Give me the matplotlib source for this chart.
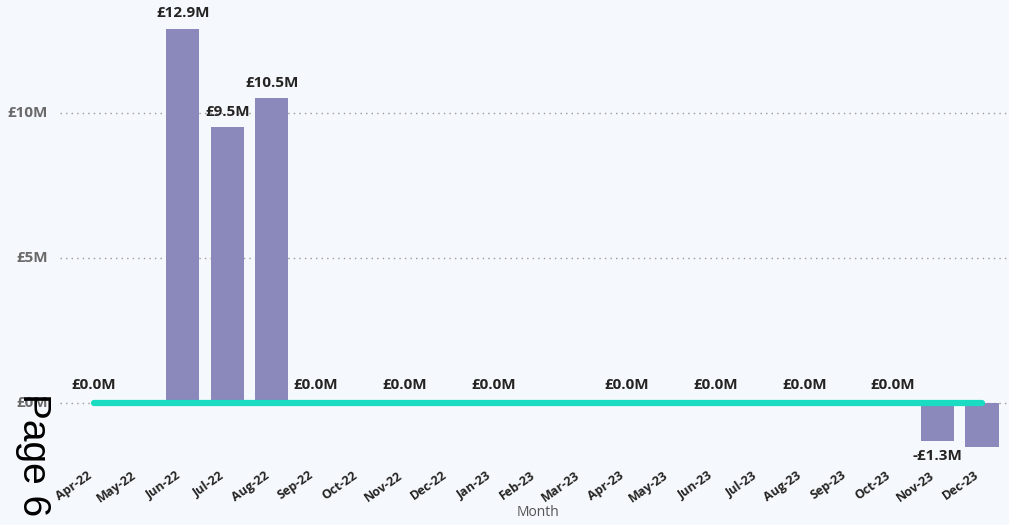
import numpy as np
import matplotlib
matplotlib.use('Agg')
import matplotlib.pyplot as plt

months = ['Apr-22', 'May-22', 'Jun-22', 'Jul-22', 'Aug-22', 'Sep-22', 'Oct-22',
          'Nov-22', 'Dec-22', 'Jan-23', 'Feb-23', 'Mar-23', 'Apr-23', 'May-23',
          'Jun-23', 'Jul-23', 'Aug-23', 'Sep-23', 'Oct-23', 'Nov-23', 'Dec-23']
bar_vals = [0, 0, 12.9, 9.5, 10.5, 0, 0, 0, 0, 0, 0, 0, 0, 0, 0, 0, 0, 0, 0, -1.3, -1.5]
line_vals = [0.0] * 21
line_label_idx = [0, 5, 7, 9, 12, 14, 16, 18]
ytick_vals = [0, 5, 10]
ytick_labels = ['£0M', '£5M', '£10M']

BG = '#f5f8fc'
BAR = '#8b88bc'
TEAL = '#1adcc2'
FONT = ['Open Sans', 'DejaVu Sans']

fig = plt.figure(figsize=(10.09, 5.25), dpi=100, facecolor=BG)
ax = fig.add_axes([60/1009, 1-460/525, 949/1009, 460/525])
ax.set_facecolor(BG)
x = np.arange(len(months))
ax.set_xlim(-0.766, 20.61)
ax.set_ylim(-57/29, 403/29)

for v in ytick_vals:
    ax.axhline(v, color='#9a9a9a', lw=1, ls=(0, (1, 3)), zorder=0)

ax.bar(x, bar_vals, width=0.75, color=BAR, zorder=2)
ax.plot(x, line_vals, color=TEAL, lw=4.5, solid_capstyle='round', zorder=3)

for v, lab in zip(ytick_vals, ytick_labels):
    fig.text(48/1009, 1-(403-29*v)/525, lab, ha='right', va='center',
             fontsize=11, fontweight='bold', color='#6a6a6a', family=FONT)

# data labels
for i, v in enumerate(bar_vals):
    if v > 0:
        ax.annotate(f'£{v:.1f}M', (i, v), xytext=(0, 11.5), textcoords='offset points',
                    ha='center', va='center', fontsize=11, fontweight='bold',
                    color='#252423', family=FONT)
ax.annotate('-£1.3M', (19, bar_vals[19]), xytext=(0, -11), textcoords='offset points',
            ha='center', va='center', fontsize=11, fontweight='bold',
            color='#252423', family=FONT)
for i in line_label_idx:
    ax.annotate(f'£{line_vals[i]:.1f}M', (i, line_vals[i]), xytext=(0, 13),
                textcoords='offset points', ha='center', va='center', fontsize=11,
                fontweight='bold', color='#252423', family=FONT)

# month labels
for i, m in enumerate(months):
    ax.annotate(m, (i, 0), xytext=(-4, -71), textcoords='offset pixels',
                rotation=35, rotation_mode='anchor', ha='right', va='center',
                fontsize=9, fontweight='bold', color='#252423', family=FONT,
                annotation_clip=False)

fig.text(538/1009, 1-512/525, 'Month', ha='center', va='center', fontsize=10,
         color='#555555', family=FONT)

for s in ax.spines.values():
    s.set_visible(False)
ax.set_xticks([])
ax.set_yticks([])

fig.text(15/1009, 1-393/525, 'Page 6', rotation=-90, ha='left', va='top',
         fontsize=28, color='black', family=['Liberation Sans', 'DejaVu Sans'])

fig.savefig('out.png', dpi=100, facecolor=BG)
